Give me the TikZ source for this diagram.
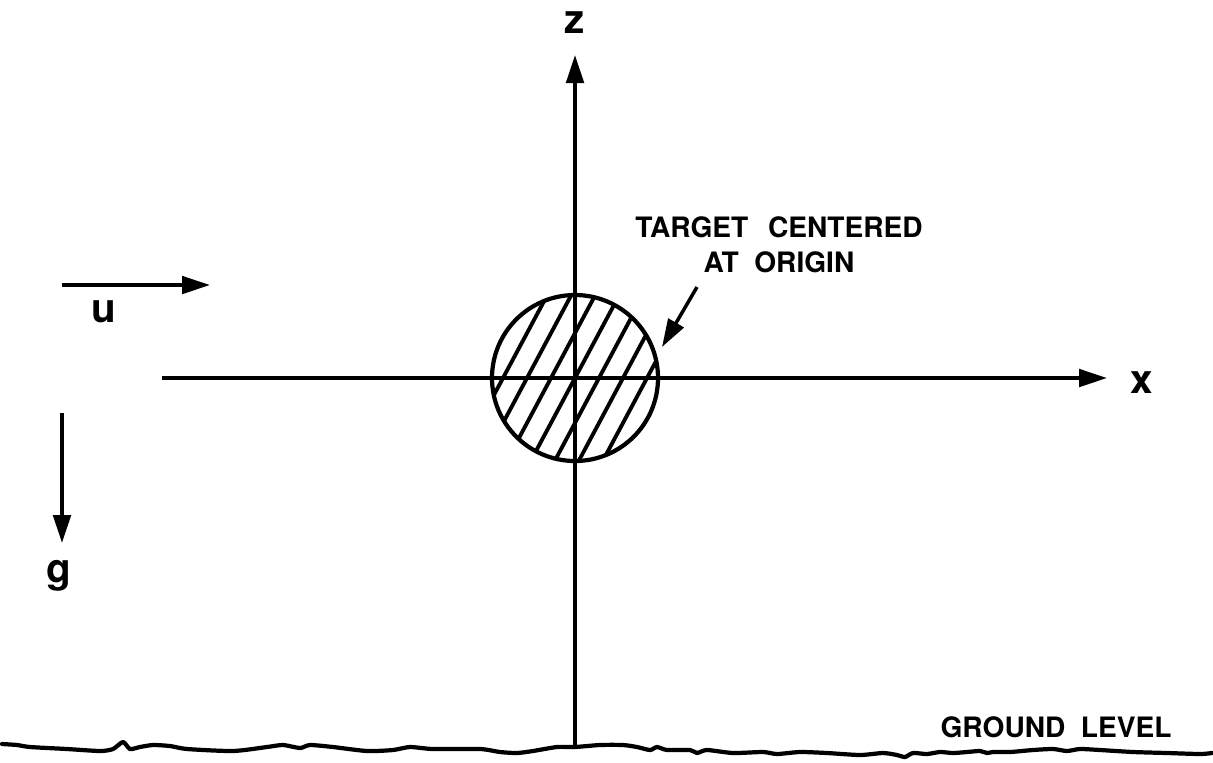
\documentclass[tikz,border=0pt]{standalone}
\usepackage{fontspec}
\setmainfont{TeX Gyre Heros}
\usepackage{tikz}
\usetikzlibrary{arrows.meta}

\begin{document}
\begin{tikzpicture}[x=0.02cm,y=-0.02cm,
  arr/.style={-{Triangle[length=5.6mm,width=3.5mm]},line width=2pt},
  hatchline/.style={line width=2.2pt},
  rim/.style={line width=2.4pt},
  groundline/.style={line width=2.4pt,line join=round,line cap=round},
  axislabel/.style={font=\fontsize{23}{23}\selectfont\bfseries,inner sep=0pt,anchor=base},
  caplabel/.style={font=\fontsize{16}{20}\selectfont\bfseries,inner sep=0pt,align=center}]
  \useasboundingbox (0,0) rectangle (1213,762);
  \coordinate (O) at (575,378);
  \coordinate (ztip) at (575,55); \coordinate (zbase) at (575,747);
  \coordinate (xstart) at (162,378); \coordinate (xtip) at (1107,378);
  \coordinate (ustart) at (62,285); \coordinate (utip) at (210,285);
  \coordinate (gstart) at (62,413); \coordinate (gtip) at (62,543);
  \coordinate (notetail) at (697,287); \coordinate (notetip) at (662,347);
  \node[axislabel] (zlab) at (575,33) {z};
  \node[axislabel] (xlab) at (1142,393) {x};
  \node[axislabel] (ulab) at (104,322) {u};
  \node[axislabel] (glab) at (59,582) {g};
  \node[caplabel] (note) at (779,245) {TARGET\hspace{0.7em}CENTERED\\AT\hspace{0.55em}ORIGIN};
  \node[caplabel,anchor=base] (groundlab) at (1056,737) {GROUND\hspace{0.55em}LEVEL};
  \begin{scope}
    \clip (O) circle[radius=83];
    \foreach \k in {-5,...,5}
      \draw[hatchline] (575+\k*24-47,466) -- (575+\k*24+47,290);
  \end{scope}
  \draw[rim] (O) circle[radius=83];
  \draw[arr] (xstart) -- (xtip); \draw[arr] (zbase) -- (ztip);
  \draw[arr] (ustart) -- (utip); \draw[arr] (gstart) -- (gtip);
  \draw[arr] (notetail) -- (notetip);
  \draw[groundline] plot[smooth,tension=0.4] coordinates {(2,744) (17,745) (30,747) (67,749) (100,751) (113,749) (123,742) (130,749) (140,747) (153,745) (170,746) (187,749) (233,751) (267,747) (283,745) (300,748) (310,745) (333,747) (367,751) (393,750) (410,747) (433,749) (480,749) (500,752) (517,753) (533,751) (557,747) (575,747) (600,745) (623,745) (637,747) (650,750) (657,747) (667,750) (690,750) (697,753) (707,750) (733,753) (763,752) (777,754) (800,752) (827,753) (860,755) (883,753) (897,755) (905,757) (913,753) (927,754) (940,752) (953,753) (967,752) (980,751) (987,753) (993,752) (1010,752) (1033,750) (1053,749) (1067,751) (1080,749) (1100,750) (1133,752) (1167,753) (1200,754) (1212,753)};
\end{tikzpicture}
\end{document}
